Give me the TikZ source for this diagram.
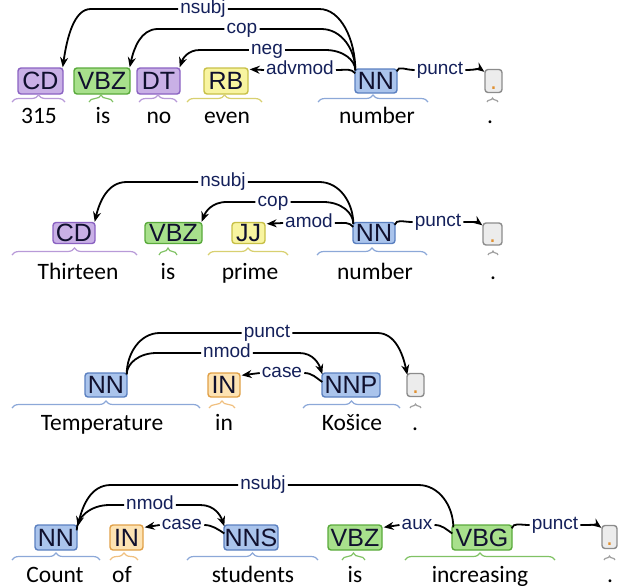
\documentclass[tikz,border=0pt]{standalone}
\usepackage{fontspec}
\newfontfamily\tagfont{Liberation Sans}
\newfontfamily\wordfont{Carlito}
\usetikzlibrary{calc,arrows.meta,decorations.pathreplacing}
\definecolor{pfill}{HTML}{C9B0E6}\definecolor{pline}{HTML}{8B63C2}\definecolor{pbr}{HTML}{B89AD8}
\definecolor{gfill}{HTML}{A8E08C}\definecolor{gline}{HTML}{5AAA3C}\definecolor{gbr}{HTML}{80C264}
\definecolor{yfill}{HTML}{F8F4A0}\definecolor{yline}{HTML}{C8C048}\definecolor{ybr}{HTML}{D8D070}
\definecolor{bfill}{HTML}{AAC4EC}\definecolor{bline}{HTML}{5B80C0}\definecolor{bbr}{HTML}{8CA8D8}
\definecolor{ofill}{HTML}{FDE3B3}\definecolor{oline}{HTML}{E0A048}\definecolor{obr}{HTML}{F0C080}
\definecolor{kfill}{HTML}{ECECEC}\definecolor{kline}{HTML}{8C8C8C}\definecolor{kbr}{HTML}{A0A0A0}
\definecolor{tagtext}{HTML}{10102E}\definecolor{lblc}{HTML}{14205A}\definecolor{dotc}{HTML}{E09030}
\tikzset{
  tagbox/.style={draw, rounded corners=3pt, line width=1.4pt, inner sep=0pt,
    font=\tagfont\fontsize{25}{25}\selectfont, text=tagtext, text height=17.5pt, text depth=0pt},
  tagP/.style={tagbox, fill=pfill, draw=pline},
  tagG/.style={tagbox, fill=gfill, draw=gline},
  tagY/.style={tagbox, fill=yfill, draw=yline},
  tagB/.style={tagbox, fill=bfill, draw=bline},
  tagO/.style={tagbox, fill=ofill, draw=oline},
  tagK/.style={tagbox, fill=kfill, draw=kline, text=dotc},
  lbl/.style={font=\tagfont\fontsize{19}{19}\selectfont, text=lblc, inner sep=2pt,
    text height=13.5pt, text depth=4pt},
  word/.style={font=\wordfont\fontsize{23.5}{23.5}\selectfont, anchor=base, inner sep=0pt},
  arcl/.style={draw=black, line width=1.8pt},
  arra/.style={arcl, -{Stealth[length=10pt,width=8pt]}},
  brbase/.style={decorate, decoration={brace, amplitude=7pt}, line width=1.2pt},
  brP/.style={brbase, draw=pbr}, brG/.style={brbase, draw=gbr}, brY/.style={brbase, draw=ybr},
  brB/.style={brbase, draw=bbr}, brO/.style={brbase, draw=obr}, brK/.style={brbase, draw=kbr, decoration={brace, amplitude=4pt}},
}
% origin, target, label, dO, dT, origin anchor, target anchor
\newcommand\deparc[7]{%
  \draw[arcl] (#3.#6) -- ($(#1|-#3)+(#4,0)$) .. controls ($(#1|-#3)+(0.4*#4,0)$) and ($(#1)!0.5!(#1|-#3)$) .. (#1);
  \draw[arra] (#3.#7) -- ($(#2|-#3)+(#5,0)$) .. controls ($(#2|-#3)+(0.4*#5,0)$) and ($(#2)!0.5!(#2|-#3)+(0.15*#5,0)$) .. (#2);
}
\begin{document}
\begin{tikzpicture}[x=1pt,y=-1pt]
\useasboundingbox (0,0) rectangle (624,587);
% ---------------- sentence 1
\node[tagP, minimum width=45pt, minimum height=26pt] (a1) at (40.5,81) {CD};
\node[tagG, minimum width=56pt, minimum height=26pt] (a2) at (102,81) {VBZ};
\node[tagP, minimum width=43pt, minimum height=26pt] (a3) at (158.5,81) {DT};
\node[tagY, minimum width=44pt, minimum height=26pt] (a4) at (226,81) {RB};
\node[tagB, minimum width=42pt, minimum height=24pt] (a5) at (376,81) {NN};
\node[tagK, minimum width=17pt, minimum height=23pt] (a6) at (493.5,81) {.};
\draw[brP] (12,102) -- (65,102);
\draw[brG] (89,102) -- (113,102);
\draw[brP] (139,102) -- (177,102);
\draw[brY] (187,102) -- (262,102);
\draw[brB] (318,102) -- (428,102);
\draw[brK] (487,102) -- (498,102);
\node[word] (w11) at (39,123) {315};
\node[word] (w12) at (103,123) {is};
\node[word] (w13) at (159,123) {no};
\node[word] (w14) at (227,123) {even};
\node[word] (w15) at (377,123) {number};
\node[word] (w16) at (490,123) {.};
\coordinate (o1) at ($(a5.north west)+(1,2)$);
\coordinate (o1b) at ($(a5.north west)+(1,5)$);
\coordinate (o1r) at ($(a5.north east)+(-1,3)$);
\coordinate (t11) at ($(a1.north east)+(-1,0)$);
\coordinate (t12) at ($(a2.north east)+(-1,0)$);
\coordinate (t13) at ($(a3.north east)+(-1,0)$);
\coordinate (t14) at ($(a4.north east)+(1,2)$);
\coordinate (t15) at ($(a6.north west)+(0,3)$);
\node[lbl] (l11) at (203,9) {nsubj};
\node[lbl] (l12) at (242,29) {cop};
\node[lbl] (l13) at (267,50) {neg};
\node[lbl] (l14) at (300,70) {advmod};
\node[lbl] (l15) at (440,70) {punct};
\deparc{o1}{t11}{l11}{-36}{28}{east}{west}
\deparc{o1}{t12}{l12}{-34}{28}{east}{west}
\deparc{o1}{t13}{l13}{-30}{20}{east}{west}
\draw[arcl] (l14.east) .. controls +(12,0) and +(-5,-5) .. (o1b);
\draw[arra] (l14.west) -- (t14);
\draw[arcl] (l15.west) .. controls +(-10,0) and +(2,-6) .. (o1r);
\draw[arra] (l15.east) .. controls +(8,0) and +(-4,-3) .. (t15);
% ---------------- sentence 2
\node[tagP, minimum width=42pt, minimum height=21pt] (b1) at (74,233) {CD};
\node[tagG, minimum width=57pt, minimum height=21pt] (b2) at (173.5,233) {VBZ};
\node[tagY, minimum width=33pt, minimum height=21pt] (b3) at (248.5,233) {JJ};
\node[tagB, minimum width=42pt, minimum height=21pt] (b4) at (374,233) {NN};
\node[tagK, minimum width=19pt, minimum height=22pt] (b5) at (492.5,234) {.};
\draw[brP] (12,255) -- (137,255);
\draw[brG] (159,255) -- (177,255);
\draw[brY] (208,255) -- (288,255);
\draw[brB] (317,255) -- (427,255);
\draw[brK] (488,255) -- (498,255);
\node[word] (w21) at (78,279) {Thirteen};
\node[word] (w22) at (168,279) {is};
\node[word] (w23) at (250,279) {prime};
\node[word] (w24) at (375,279) {number};
\node[word] (w25) at (493,279) {.};
\coordinate (o2) at ($(b4.north west)+(1,2)$);
\coordinate (o2b) at ($(b4.north west)+(1,5)$);
\coordinate (o2r) at ($(b4.north east)+(-1,3)$);
\coordinate (t21) at ($(b1.north east)+(-1,0)$);
\coordinate (t22) at ($(b2.north east)+(-1,0)$);
\coordinate (t23) at ($(b3.north east)+(1,2)$);
\coordinate (t24) at ($(b5.north west)+(0,3)$);
\node[lbl] (l21) at (223,182) {nsubj};
\node[lbl] (l22) at (273,202) {cop};
\node[lbl] (l23) at (309,223) {amod};
\node[lbl] (l24) at (438,222) {punct};
\deparc{o2}{t21}{l21}{-34}{32}{east}{west}
\deparc{o2}{t22}{l22}{-30}{25}{east}{west}
\draw[arcl] (l23.east) .. controls +(10,0) and +(-5,-5) .. (o2b);
\draw[arra] (l23.west) -- (t23);
\draw[arcl] (l24.west) .. controls +(-10,0) and +(2,-6) .. (o2r);
\draw[arra] (l24.east) .. controls +(8,0) and +(-4,-3) .. (t24);
% ---------------- sentence 3
\node[tagB, minimum width=42pt, minimum height=24pt] (c1) at (106,385) {NN};
\node[tagO, minimum width=32pt, minimum height=24pt] (c2) at (224,385) {IN};
\node[tagB, minimum width=58pt, minimum height=24pt] (c3) at (351,385) {NNP};
\node[tagK, minimum width=17pt, minimum height=23pt] (c4) at (415.5,385) {.};
\draw[brB] (12,408) -- (200,408);
\draw[brO] (209,408) -- (235,408);
\draw[brB] (303,408) -- (400,408);
\draw[brK] (410,408) -- (421,408);
\node[word] (w31) at (102,430) {Temperature};
\node[word] (w32) at (224,430) {in};
\node[word] (w33) at (352,430) {Košice};
\node[word] (w34) at (415,430) {.};
\coordinate (o3) at ($(c1.north east)+(-1,2)$);
\coordinate (o33) at ($(c3.west)+(1,-3)$);
\coordinate (t31) at ($(c4.north west)+(1,2)$);
\coordinate (t32) at ($(c3.north west)+(1,2)$);
\coordinate (t33) at ($(c2.north east)+(1,3)$);
\node[lbl] (l31) at (267,333) {punct};
\node[lbl] (l32) at (227,353) {nmod};
\node[lbl] (l33) at (282,373) {case};
\deparc{o3}{t31}{l31}{33}{-30}{west}{east}
\deparc{o3}{t32}{l32}{30}{-23}{west}{east}
\draw[arcl] (l33.east) .. controls +(8,0) and +(-6,-4) .. (o33);
\draw[arra] (l33.west) -- (t33);
% ---------------- sentence 4
\node[tagB, minimum width=42pt, minimum height=25pt] (d1) at (56,537.5) {NN};
\node[tagO, minimum width=33pt, minimum height=25pt] (d2) at (126.5,537.5) {IN};
\node[tagB, minimum width=54pt, minimum height=25pt] (d3) at (251,537.5) {NNS};
\node[tagG, minimum width=54pt, minimum height=25pt] (d4) at (355,537.5) {VBZ};
\node[tagG, minimum width=60pt, minimum height=25pt] (d5) at (482,537.5) {VBG};
\node[tagK, minimum width=15pt, minimum height=23pt] (d6) at (609.5,537) {.};
\draw[brB] (12,560) -- (100,560);
\draw[brO] (110,560) -- (138,560);
\draw[brB] (187,560) -- (318,560);
\draw[brG] (342,560) -- (365,560);
\draw[brG] (405,560) -- (555,560);
\draw[brK] (604,560) -- (615,560);
\node[word] (w41) at (55,582) {Count};
\node[word] (w42) at (122,582) {of};
\node[word] (w43) at (253,582) {students};
\node[word] (w44) at (355,582) {is};
\node[word] (w45) at (480,582) {increasing};
\node[word] (w46) at (610,582) {.};
\coordinate (o41) at ($(d5.north west)+(2,3)$);
\coordinate (o42) at ($(d1.north east)+(-1,6)$);
\coordinate (o43) at ($(d3.west)+(1,-4)$);
\coordinate (o44) at ($(d5.west)+(1,-4)$);
\coordinate (o45) at ($(d5.north east)+(-1,4)$);
\coordinate (t41) at ($(d1.north east)+(0,2)$);
\coordinate (t42) at ($(d3.north west)+(1,2)$);
\coordinate (t43) at ($(d2.north east)+(1,3)$);
\coordinate (t44) at ($(d4.north east)+(1,3)$);
\coordinate (t45) at ($(d6.north west)+(0,3)$);
\node[lbl] (l41) at (263,485) {nsubj};
\node[lbl] (l42) at (150,505) {nmod};
\node[lbl] (l43) at (182,525) {case};
\node[lbl] (l44) at (417,525) {aux};
\node[lbl] (l45) at (555,525) {punct};
\deparc{o41}{t41}{l41}{-35}{33}{east}{west}
\deparc{o42}{t42}{l42}{33}{-24}{west}{east}
\draw[arcl] (l43.east) .. controls +(8,0) and +(-6,-4) .. (o43);
\draw[arra] (l43.west) -- (t43);
\draw[arcl] (l44.east) .. controls +(8,0) and +(-6,-4) .. (o44);
\draw[arra] (l44.west) -- (t44);
\draw[arcl] (l45.west) .. controls +(-10,0) and +(2,-6) .. (o45);
\draw[arra] (l45.east) .. controls +(8,0) and +(-4,-3) .. (t45);
\end{tikzpicture}
\end{document}
